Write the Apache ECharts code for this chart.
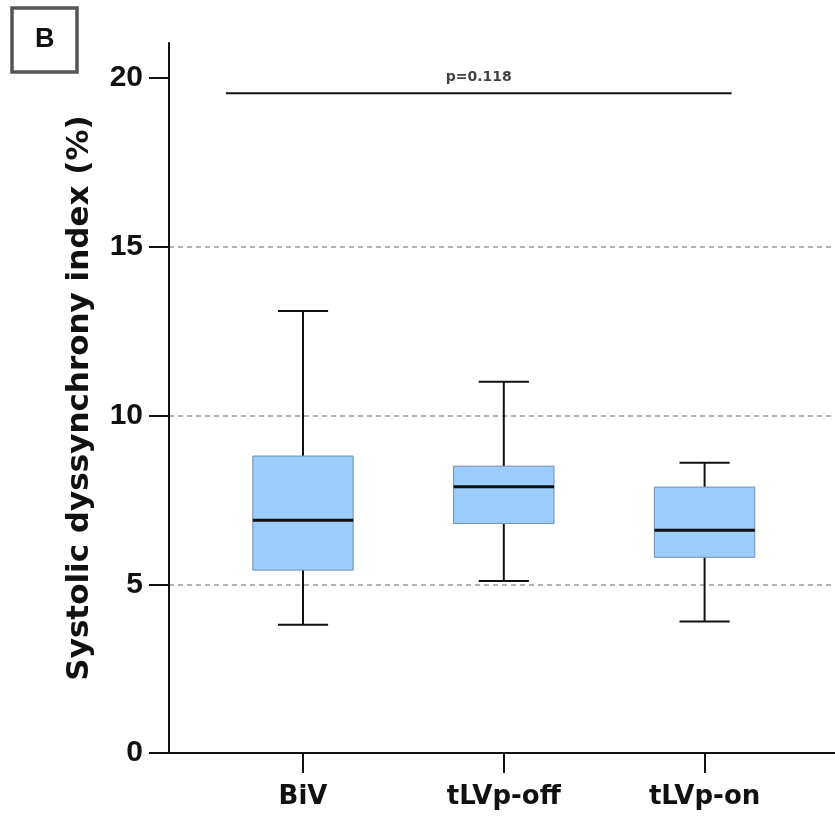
<!DOCTYPE html>
<html>
<head>
<meta charset="utf-8">
<script src="https://cdn.jsdelivr.net/npm/echarts@6/dist/echarts.min.js"></script>
<style>html,body{margin:0;padding:0;background:#fff}#c{width:835px;height:820px}</style>
</head>
<body>
<div id="c"></div>
<script>
// ---- data ----
const categories = ['BiV', 'tLVp-off', 'tLVp-on'];
const whiskerLow  = [3.8, 5.1, 3.9];
const q1          = [5.42, 6.8, 5.8];
const median      = [6.9, 7.89, 6.6];
const q3          = [8.8, 8.5, 7.88];
const whiskerHigh = [13.1, 11.0, 8.6];
const yTicks = [0, 5, 10, 15, 20];
const pLabel = 'p=0.118';
const pValueY = 19.55;          // level of the comparison bar
const pBarFrom = -0.384;        // in category units (0 = BiV centre)
const pBarTo = 2.135;
const panelLetter = 'B';
const yTitle = 'Systolic dyssynchrony index (%)';

const FONT = 'Liberation Sans, Arial, sans-serif';
const WIDE = 'DejaVu Sans, sans-serif';
const yMin = 0, yMax = 21.04;
const xMinB = -0.6675, xMaxB = 2.650;

const boxData = categories.map((c, i) => [i, whiskerLow[i], q1[i], median[i], q3[i], whiskerHigh[i]]);

const chart = echarts.init(document.getElementById('c'), null, {renderer: 'canvas'});
chart.setOption({
  backgroundColor: '#fff',
  animation: false,
  title: {
    text: panelLetter, left: 12, top: 8,
    borderColor: '#555', borderWidth: 3.5,
    padding: [19, 23, 19, 23],
    textStyle: {fontFamily: FONT, fontWeight: 'bold', fontSize: 27, color: '#111', lineHeight: 26}
  },
  grid: [
    {left: 169, right: 0, top: 43, bottom: 67},
    {left: 202.6, right: 30, top: 43, bottom: 67}
  ],
  xAxis: [
    {type: 'value', gridIndex: 0, min: xMinB, max: xMaxB,
     axisLine: {show: true, onZero: false, lineStyle: {color: '#111', width: 2}},
     axisTick: {show: false}, axisLabel: {show: false}, splitLine: {show: false}},
    {type: 'category', gridIndex: 1, data: categories,
     axisLine: {show: false},
     axisTick: {show: true, alignWithLabel: true, length: 20, lineStyle: {color: '#111', width: 2}},
     axisLabel: {fontFamily: WIDE, fontWeight: 'bold', fontSize: 26, color: '#111', margin: 31},
     splitLine: {show: false}}
  ],
  yAxis: [
    {type: 'value', gridIndex: 0, min: yMin, max: yMax, interval: 5,
     name: yTitle, nameLocation: 'middle', nameGap: 74,
     nameTextStyle: {fontFamily: WIDE, fontWeight: 'bold', fontSize: 31, color: '#111'},
     axisLine: {show: true, onZero: false, lineStyle: {color: '#111', width: 2}},
     axisTick: {show: true, length: 20, customValues: yTicks, lineStyle: {color: '#111', width: 2}},
     axisLabel: {customValues: yTicks, fontFamily: FONT, fontWeight: 'bold', fontSize: 30, color: '#111',
       margin: 26, padding: [9, 0, 0, 0], backgroundColor: 'rgba(255,255,255,0)'},
     splitLine: {show: true, showMinLine: false, showMaxLine: false,
       lineStyle: {color: '#9a9a9a', width: 1.5, type: [5, 4]}}},
    {type: 'value', gridIndex: 1, min: yMin, max: yMax, show: false, splitLine: {show: false}}
  ],
  series: [
    {
      type: 'custom', xAxisIndex: 1, yAxisIndex: 1, data: boxData,
      encode: {x: 0, y: [1, 2, 3, 4, 5]},
      renderItem: function (params, api) {
        const idx = api.value(0);
        const band = api.size([1, 0])[0];
        const halfBox = band * 0.25, halfCap = band * 0.125;
        const pLow = api.coord([idx, api.value(1)]);
        const pQ1 = api.coord([idx, api.value(2)]);
        const pMed = api.coord([idx, api.value(3)]);
        const pQ3 = api.coord([idx, api.value(4)]);
        const pHigh = api.coord([idx, api.value(5)]);
        const cx = pMed[0];
        const ws = {stroke: '#111', lineWidth: 2};
        return {
          type: 'group',
          children: [
            {type: 'line', shape: {x1: cx, y1: pQ3[1], x2: cx, y2: pHigh[1]}, style: ws},
            {type: 'line', shape: {x1: cx, y1: pQ1[1], x2: cx, y2: pLow[1]}, style: ws},
            {type: 'line', shape: {x1: cx - halfCap, y1: pHigh[1], x2: cx + halfCap, y2: pHigh[1]}, style: ws},
            {type: 'line', shape: {x1: cx - halfCap, y1: pLow[1], x2: cx + halfCap, y2: pLow[1]}, style: ws},
            {type: 'rect', shape: {x: cx - halfBox, y: pQ3[1], width: halfBox * 2, height: pQ1[1] - pQ3[1]},
             style: {fill: '#9dcdfa', stroke: '#6f8fae', lineWidth: 1}},
            {type: 'line', shape: {x1: cx - halfBox, y1: pMed[1], x2: cx + halfBox, y2: pMed[1]},
             style: {stroke: '#111', lineWidth: 3}}
          ]
        };
      }
    },
    {
      type: 'line', xAxisIndex: 0, yAxisIndex: 0,
      data: [[pBarFrom, pValueY], [pBarTo, pValueY]],
      symbol: 'none', lineStyle: {color: '#111', width: 2}, silent: true
    },
    {
      type: 'scatter', xAxisIndex: 0, yAxisIndex: 0,
      data: [[(pBarFrom + pBarTo) / 2, 20.02]],
      symbolSize: 0, silent: true,
      label: {show: true, position: 'inside', formatter: pLabel,
        fontFamily: WIDE, fontWeight: 'bold', fontSize: 14, color: '#111',
        backgroundColor: '#fff', padding: [0, 2]}
    }
  ]
});
</script>
</body>
</html>
